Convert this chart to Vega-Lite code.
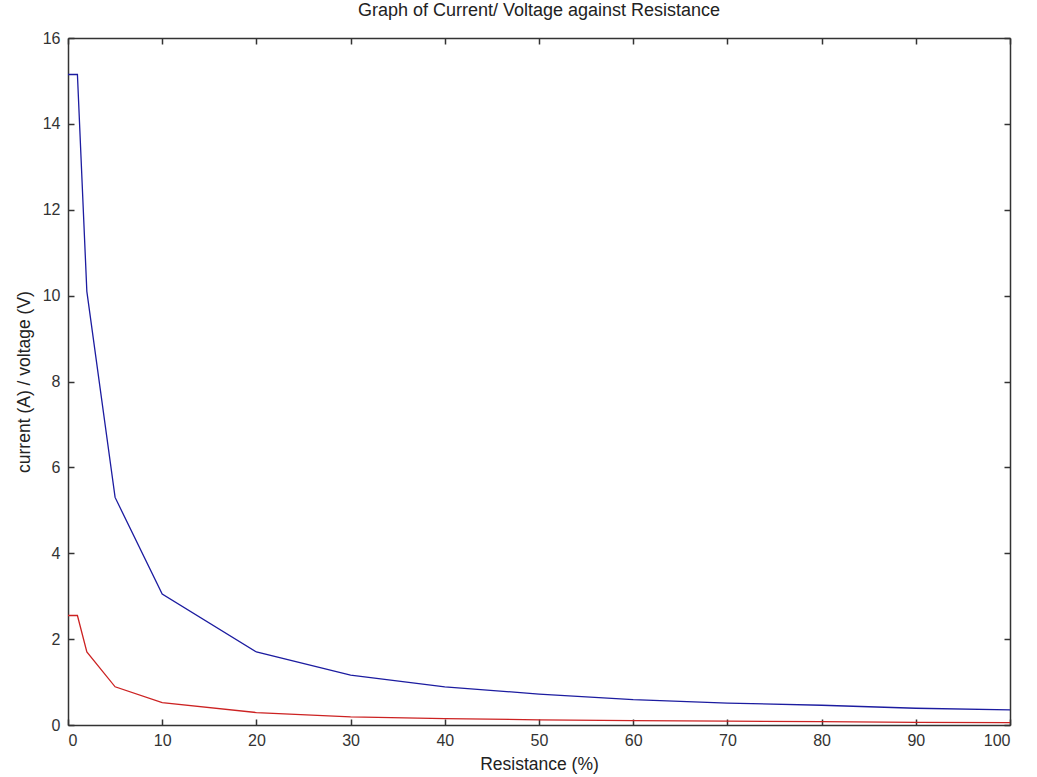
{
  "$schema": "https://vega.github.io/schema/vega-lite/v6.json",
  "width": 942,
  "height": 687,
  "autosize": "none",
  "padding": {"left": 68, "top": 38, "right": 27, "bottom": 52},
  "background": "white",
  "title": {"text": "Graph of Current/ Voltage against Resistance", "font": "Liberation Sans", "fontSize": 18, "fontWeight": "normal", "color": "#222", "offset": 10},
  "config": {
    "view": {"stroke": null},
    "axis": {"labelFont": "Liberation Sans", "labelFontSize": 16, "labelColor": "#333", "titleFont": "Liberation Sans", "titleFontSize": 17.5, "titleFontWeight": "normal", "titleColor": "#222", "domainColor": "#333", "tickColor": "#333", "grid": false, "tickSize": -6, "domainWidth": 1.5, "tickWidth": 1.5}
  },
  "data": {"values": [
    {"r": 0, "v": 15.15, "s": "current"},
    {"r": 1, "v": 15.15, "s": "current"},
    {"r": 2, "v": 10.1, "s": "current"},
    {"r": 5, "v": 5.3, "s": "current"},
    {"r": 10, "v": 3.05, "s": "current"},
    {"r": 20, "v": 1.7, "s": "current"},
    {"r": 30, "v": 1.16, "s": "current"},
    {"r": 40, "v": 0.89, "s": "current"},
    {"r": 50, "v": 0.72, "s": "current"},
    {"r": 60, "v": 0.59, "s": "current"},
    {"r": 70, "v": 0.51, "s": "current"},
    {"r": 80, "v": 0.46, "s": "current"},
    {"r": 90, "v": 0.39, "s": "current"},
    {"r": 100, "v": 0.35, "s": "current"},
    {"r": 0, "v": 2.55, "s": "voltage"},
    {"r": 1, "v": 2.55, "s": "voltage"},
    {"r": 2, "v": 1.7, "s": "voltage"},
    {"r": 5, "v": 0.89, "s": "voltage"},
    {"r": 10, "v": 0.52, "s": "voltage"},
    {"r": 20, "v": 0.29, "s": "voltage"},
    {"r": 30, "v": 0.19, "s": "voltage"},
    {"r": 40, "v": 0.15, "s": "voltage"},
    {"r": 50, "v": 0.12, "s": "voltage"},
    {"r": 60, "v": 0.1, "s": "voltage"},
    {"r": 70, "v": 0.09, "s": "voltage"},
    {"r": 80, "v": 0.08, "s": "voltage"},
    {"r": 90, "v": 0.06, "s": "voltage"},
    {"r": 100, "v": 0.055, "s": "voltage"}
  ]},
  "layer": [
    {
      "mark": {"type": "line", "strokeWidth": 1.3, "clip": true},
      "encoding": {
        "x": {"field": "r", "type": "quantitative", "scale": {"domain": [0, 100], "nice": false, "zero": false},
              "axis": {"orient": "bottom", "title": "Resistance (%)", "values": [0,10,20,30,40,50,60,70,80,90,100], "labelPadding": 13, "titlePadding": 7}},
        "y": {"field": "v", "type": "quantitative", "scale": {"domain": [0, 16], "nice": false},
              "axis": {"orient": "left", "title": "current (A) / voltage (V)", "values": [0,2,4,6,8,10,12,14,16], "labelPadding": 14, "titlePadding": 9}},
        "color": {"field": "s", "type": "nominal", "scale": {"domain": ["current", "voltage"], "range": ["#1c1ca0", "#cc2222"]}, "legend": null},
        "detail": {"field": "s"}
      }
    },
    {
      "mark": {"type": "line", "opacity": 0},
      "encoding": {
        "x": {"field": "r", "type": "quantitative", "axis": {"orient": "top", "title": null, "labels": false, "values": [0,10,20,30,40,50,60,70,80,90,100]}},
        "y": {"field": "v", "type": "quantitative", "axis": {"orient": "right", "title": null, "labels": false, "values": [0,2,4,6,8,10,12,14,16]}},
        "detail": {"field": "s"}
      }
    }
  ],
  "resolve": {"axis": {"x": "independent", "y": "independent"}}
}
